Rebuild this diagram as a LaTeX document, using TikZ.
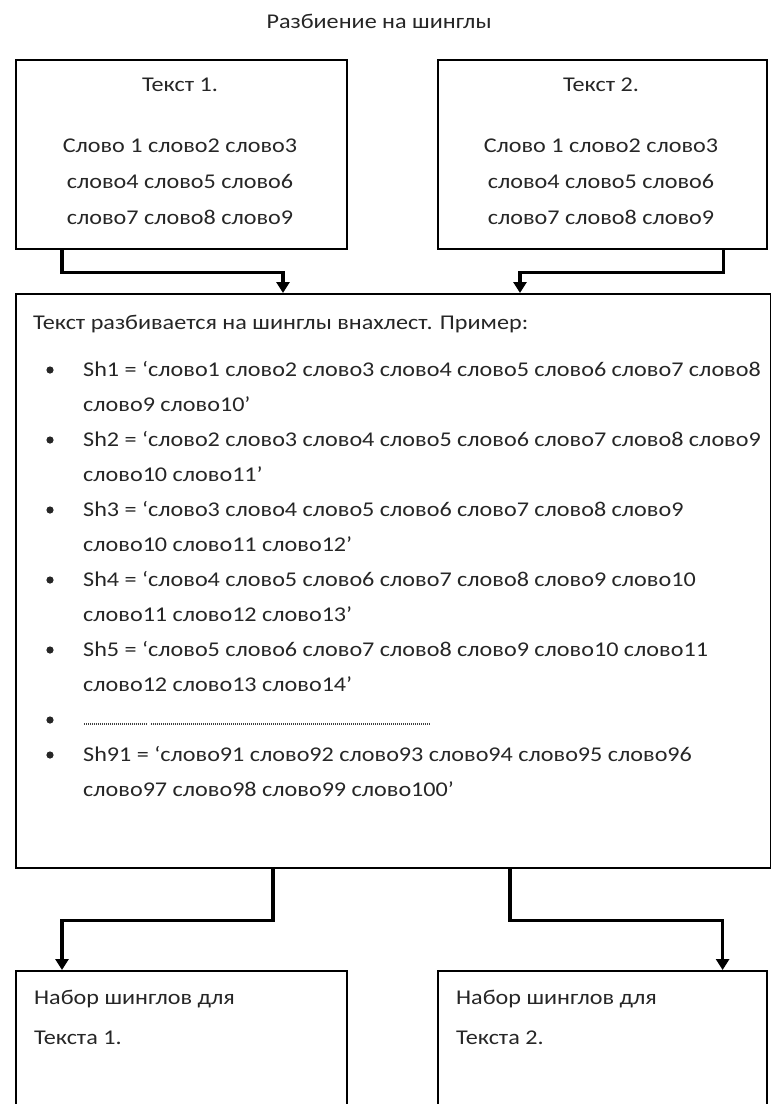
\documentclass[tikz,border=0pt]{standalone}
\usepackage{fontspec}
\setmainfont[FakeStretch=1.15]{Carlito}
\usetikzlibrary{arrows.meta}
\begin{document}
\begin{tikzpicture}[
		x=1pt, y=-1pt,
		box/.style={
			draw, line width=1.6pt, rectangle, anchor=north west, inner sep=0pt
		},
		txt/.style={
			inner sep=0pt, text=black!85, font=\fontsize{21}{21}\selectfont
		},
		ctr/.style={txt, anchor=base},
		lft/.style={txt, anchor=base west},
		flow/.style={
			line width=3.5pt, -{Triangle[width=13pt,length=11pt]}
		}
		]
		\useasboundingbox (0,0) rectangle (771,1104);
		\clip (0,0) rectangle (771,1104);
		
		\node[ctr] (title) at (379,28) {Разбиение на шинглы};
		
		% два исходных текста
		\node[box, minimum width=331pt, minimum height=189pt] (textA) at (15,59) {};
		\node[box, minimum width=329pt, minimum height=189pt] (textB) at (437,59) {};
		\node[ctr] (nameA) at (180,91) {Текст 1.};
		\node[ctr] (wordsA) at (180,152) {Слово 1 слово2 слово3};
		\node[ctr] at (180,188) {слово4 слово5 слово6};
		\node[ctr] at (180,224) {слово7 слово8 слово9};
		\node[ctr] (nameB) at (601,91) {Текст 2.};
		\node[ctr] (wordsB) at (601,152) {Слово 1 слово2 слово3};
		\node[ctr] at (601,188) {слово4 слово5 слово6};
		\node[ctr] at (601,224) {слово7 слово8 слово9};
		
		% разбиение на шинглы
		\node[box, minimum width=755pt, minimum height=574pt] (split) at (15,293) {};
		\node[lft] (intro) at (33,329) {Текст разбивается на шинглы внахлест. Пример:};
		\foreach \y/\s in {
				376/{Sh1 = ‘слово1 слово2 слово3 слово4 слово5 слово6 слово7 слово8},
				446/{Sh2 = ‘слово2 слово3 слово4 слово5 слово6 слово7 слово8 слово9},
				516/{Sh3 = ‘слово3 слово4 слово5 слово6 слово7 слово8 слово9},
				586/{Sh4 = ‘слово4 слово5 слово6 слово7 слово8 слово9 слово10},
				656/{Sh5 = ‘слово5 слово6 слово7 слово8 слово9 слово10 слово11},
				761/{Sh91 = ‘слово91 слово92 слово93 слово94 слово95 слово96}}{
			\node[lft] at (83,\y) {\s};
			\fill[black!85] (50,\y-6) circle (3.6pt);
		}
		\foreach \y/\s in {
				411/{слово9 слово10’},
				481/{слово10 слово11’},
				551/{слово10 слово11 слово12’},
				621/{слово11 слово12 слово13’},
				691/{слово12 слово13 слово14’},
				796/{слово97 слово98 слово99 слово100’}}{
			\node[lft] at (83,\y) {\s};
		}
		\fill[black!85] (50,720) circle (3.6pt);
		\draw[black!75, line width=1.3pt, dash pattern=on 1pt off 1pt] (84,724) -- (148,724) (151,724) -- (430,724);
		
		% наборы шинглов
		\node[box, minimum width=331pt, minimum height=200pt] (setA) at (15,970) {};
		\node[box, minimum width=329pt, minimum height=200pt] (setB) at (437,970) {};
		\node[lft] at (34,1004) {Набор шинглов для};
		\node[lft] at (34,1044) {Текста 1.};
		\node[lft] at (456,1004) {Набор шинглов для};
		\node[lft] at (456,1044) {Текста 2.};
		
		% стрелки
		\draw[flow] ([xshift=47]textA.south west) -- ++(0,23) -| ([xshift=268]split.north west);
		\draw[flow] ([xshift=-44]textB.south east) -- ++(0,23) -| ([xshift=505]split.north west);
		\draw[flow] ([xshift=258]split.south west) -- ++(0,52) -| ([xshift=47]setA.north west);
		\draw[flow] ([xshift=495]split.south west) -- ++(0,52) -| ([xshift=-45]setB.north east);
	\end{tikzpicture}
\end{document}
